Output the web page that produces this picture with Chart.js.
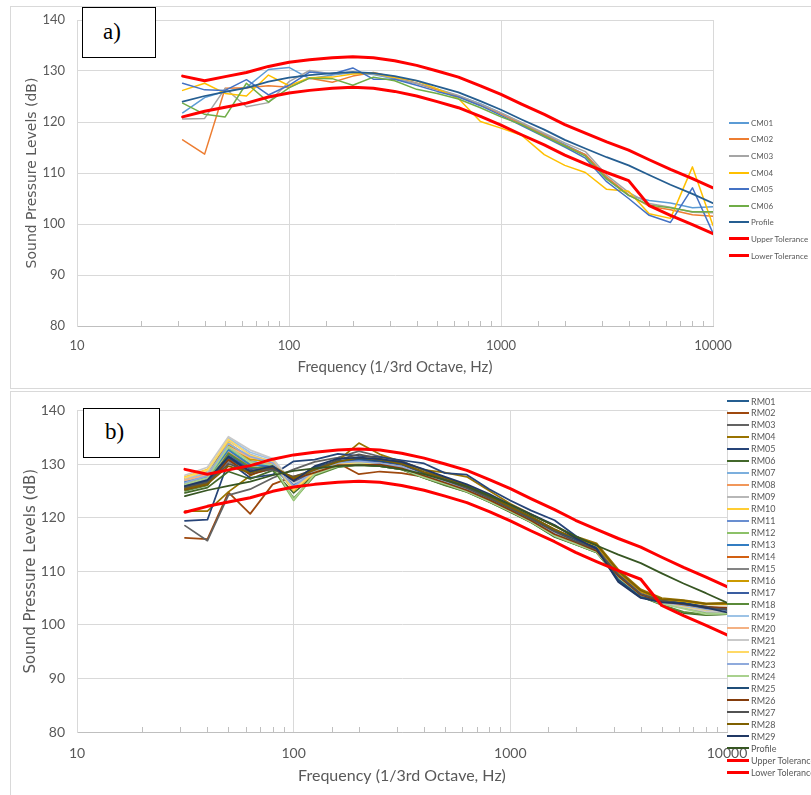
<!DOCTYPE html>
<html>
<head>
<meta charset="utf-8">
<script src="https://cdn.jsdelivr.net/npm/chart.js@4.4.0/dist/chart.umd.min.js"></script>
<style>
  body { margin: 0; background: #fff; width: 811px; height: 795px; overflow: hidden; position: relative; font-family: Lato, sans-serif; }
  .panel { position: absolute; left: 10px; width: 810px; border: 1px solid #D9D9D9; border-right: none; box-sizing: border-box; }
  canvas { position: absolute; left: 0; }
  .tag { position: absolute; border: 1px solid #000; background: #fff; box-sizing: border-box;
         font-family: "Liberation Serif", "DejaVu Serif", serif; font-size: 23px; color: #000; }
  .tag span { position: absolute; }
  .legend { position: absolute; left: 0; top: 0; }
  .legend .item { position: absolute; display: flex; align-items: center; white-space: nowrap; height: 12px;
                  color: #595959; font-family: Lato, sans-serif; }
  .legend .swatch { display: inline-block; margin-right: 2px; }
</style>
</head>
<body>
<div class="panel" style="top:6px;height:383px"></div>
<div class="panel" style="top:391px;height:420px"></div>
<canvas id="chartA" width="811" height="390" style="top:0"></canvas>
<canvas id="chartB" width="811" height="405" style="top:390px"></canvas>
<div class="tag" style="left:82px;top:7px;width:74px;height:51px"><span style="left:20px;top:11px">a)</span></div>
<div class="tag" style="left:83px;top:408px;width:77px;height:50px"><span style="left:21px;top:10px">b)</span></div>
<div class="legend" id="legendA"></div>
<div class="legend" id="legendB"></div>
<script>
// 1/3 octave band centre frequencies (Hz)
const freqs = [31.5, 40, 50, 63, 80, 100, 125, 160, 200, 250, 315, 400, 500, 630, 800, 1000, 1250, 1600, 2000, 2500, 3150, 4000, 5000, 6300, 8000, 10000];
const xTickValues = [10, 100, 1000, 10000];

const profile   = [124.0, 125.1, 125.9, 126.7, 127.9, 128.7, 129.2, 129.6, 129.8, 129.6, 129.0, 128.1, 127.0, 125.8, 124.1, 122.4, 120.5, 118.5, 116.5, 114.8, 113.1, 111.5, 109.6, 107.7, 105.9, 104.1];
const upperTol  = [129.0, 128.1, 128.9, 129.7, 130.9, 131.7, 132.2, 132.6, 132.8, 132.6, 132.0, 131.1, 130.0, 128.8, 127.1, 125.4, 123.5, 121.5, 119.5, 117.8, 116.1, 114.5, 112.6, 110.7, 108.9, 107.1];
const lowerTol  = [121.0, 122.1, 122.9, 123.7, 124.9, 125.7, 126.2, 126.6, 126.8, 126.6, 126.0, 125.1, 124.0, 122.8, 121.1, 119.4, 117.5, 115.5, 113.5, 111.8, 110.1, 108.5, 103.6, 101.7, 99.9, 98.1];

// panel a
const cm01 = [121.8, 124.8, 126.0, 126.8, 130.3, 130.7, 128.5, 129.2, 129.7, 129.3, 128.5, 127.6, 126.4, 125.1, 123.6, 121.8, 119.8, 117.6, 115.6, 113.6, 109.0, 105.6, 104.6, 104.1, 103.2, 103.4];
const cm02 = [116.5, 113.7, 126.6, 126.7, 127.1, 126.8, 128.6, 127.8, 129.0, 129.7, 128.8, 127.6, 126.3, 125.0, 123.3, 121.6, 119.6, 117.4, 115.4, 113.6, 109.2, 105.7, 103.5, 102.8, 101.8, 101.5];
const cm03 = [120.6, 120.7, 126.6, 123.0, 123.8, 127.9, 130.1, 129.4, 129.8, 129.4, 128.6, 127.6, 126.5, 125.2, 123.5, 121.8, 119.9, 117.8, 115.9, 114.2, 109.6, 106.2, 104.0, 103.3, 102.3, 102.2];
const cm04 = [126.2, 127.6, 125.6, 125.1, 129.2, 127.1, 128.7, 128.8, 129.4, 129.6, 128.7, 128.1, 126.5, 124.6, 120.1, 118.8, 117.4, 113.6, 111.5, 110.1, 106.8, 106.4, 102.0, 101.1, 111.2, 99.7];
const cm05 = [127.6, 126.3, 126.2, 128.3, 125.3, 127.2, 129.8, 129.4, 130.6, 128.4, 128.4, 127.2, 126.0, 124.9, 123.2, 121.3, 119.3, 117.1, 115.1, 112.9, 108.3, 105.0, 101.7, 100.3, 107.1, 98.2];
const cm06 = [123.7, 121.5, 121.0, 127.6, 123.9, 126.7, 128.6, 128.5, 127.2, 128.8, 128.1, 126.4, 125.6, 124.5, 122.8, 121.0, 119.5, 117.2, 115.3, 113.3, 108.8, 105.6, 103.7, 103.2, 102.4, 102.4];

// panel b
const rm01 = [126.0, 127.0, 131.5, 129.0, 129.8, 126.5, 129.0, 130.3, 130.6, 130.2, 129.5, 128.0, 126.8, 125.5, 123.6, 121.8, 119.8, 117.2, 115.6, 114.0, 109.0, 105.6, 104.3, 103.6, 102.8, 102.6];
const rm02 = [116.2, 116.0, 124.7, 120.7, 126.2, 127.7, 128.6, 130.2, 128.1, 128.6, 128.3, 127.6, 126.6, 125.3, 123.5, 121.6, 119.7, 117.4, 115.4, 113.9, 109.3, 105.8, 104.4, 103.9, 103.4, 103.0];
const rm03 = [118.5, 115.7, 124.2, 125.3, 127.4, 129.0, 130.4, 131.2, 132.4, 131.4, 130.6, 128.8, 127.4, 125.8, 124.2, 122.0, 120.2, 117.8, 115.8, 114.4, 109.6, 106.0, 104.6, 104.0, 103.0, 102.4];
const rm04 = [121.2, 121.2, 124.8, 127.8, 129.8, 127.0, 128.5, 130.6, 133.9, 131.8, 130.4, 128.9, 128.4, 127.6, 125.0, 122.6, 120.6, 118.4, 116.5, 115.2, 110.3, 106.6, 105.0, 104.6, 104.0, 104.1];
const rm05 = [119.4, 119.6, 130.5, 127.4, 128.0, 130.5, 130.8, 131.9, 131.5, 131.3, 130.7, 130.1, 128.3, 128.0, 125.3, 123.2, 121.3, 119.5, 116.6, 114.3, 108.2, 105.1, 104.4, 104.2, 103.2, 102.2];
const rm06 = [124.6, 125.6, 128.6, 127.2, 128.8, 124.6, 128.0, 129.5, 129.8, 129.6, 129.0, 127.4, 126.0, 124.8, 122.9, 121.0, 119.1, 116.4, 115.0, 113.5, 108.6, 105.3, 103.8, 102.2, 101.8, 102.0];
const rm07 = [127.0, 128.2, 133.4, 130.4, 130.0, 125.6, 128.8, 130.0, 130.4, 130.0, 129.4, 127.8, 126.6, 125.3, 123.5, 121.6, 119.6, 117.0, 115.5, 113.9, 109.2, 105.7, 104.3, 103.6, 102.8, 102.6];
const rm08 = [126.4, 127.4, 132.2, 129.6, 130.2, 125.8, 128.6, 130.1, 130.5, 130.3, 129.6, 128.0, 126.8, 125.4, 123.7, 121.7, 119.7, 117.2, 115.7, 114.1, 109.4, 105.8, 104.4, 103.7, 103.0, 102.9];
const rm09 = [126.8, 128.0, 134.4, 131.8, 130.4, 126.2, 128.2, 129.8, 130.2, 129.8, 129.2, 127.6, 126.4, 125.1, 123.2, 121.4, 119.4, 116.8, 115.3, 113.8, 109.1, 105.6, 104.1, 103.4, 102.6, 102.5];
const rm10 = [127.6, 129.0, 134.0, 131.0, 130.2, 125.0, 128.4, 129.9, 130.3, 129.9, 129.3, 127.7, 126.5, 125.2, 123.3, 121.5, 119.5, 116.9, 115.4, 113.9, 109.3, 105.7, 104.2, 103.5, 102.8, 102.7];
const rm11 = [126.2, 127.2, 133.0, 130.6, 129.6, 125.4, 128.9, 130.2, 130.6, 130.1, 129.5, 127.9, 126.7, 125.4, 123.5, 121.6, 119.6, 117.1, 115.6, 114.0, 109.0, 105.5, 104.2, 103.5, 102.7, 102.5];
const rm12 = [125.8, 126.8, 132.8, 130.0, 129.4, 123.2, 128.0, 129.6, 130.0, 129.7, 129.1, 127.5, 126.2, 124.9, 123.0, 121.2, 119.2, 116.6, 115.1, 113.6, 108.8, 105.4, 104.0, 103.2, 102.2, 102.2];
const rm13 = [126.6, 127.6, 132.6, 129.8, 129.8, 126.0, 129.2, 130.4, 130.7, 130.3, 129.7, 128.1, 126.9, 125.5, 123.7, 121.8, 119.8, 117.3, 115.7, 114.1, 109.2, 105.6, 104.3, 103.7, 103.0, 102.8];
const rm14 = [125.5, 126.6, 131.0, 128.6, 129.4, 126.8, 128.7, 130.0, 130.2, 130.2, 129.4, 127.9, 126.6, 125.2, 123.4, 121.5, 119.5, 117.0, 115.5, 113.8, 109.0, 105.5, 104.2, 103.6, 102.9, 102.8];
const rm15 = [126.0, 127.0, 130.4, 128.2, 129.0, 127.4, 128.4, 129.8, 130.1, 130.0, 129.3, 127.8, 126.5, 125.0, 123.2, 121.3, 119.4, 116.8, 115.3, 113.7, 108.9, 105.3, 104.0, 103.3, 102.5, 102.4];
const rm16 = [127.3, 128.6, 133.6, 130.8, 130.6, 125.2, 128.3, 129.7, 130.4, 130.1, 129.6, 128.2, 127.0, 125.6, 123.8, 121.9, 119.9, 117.5, 115.9, 114.8, 109.8, 106.2, 104.8, 104.3, 103.8, 103.8];
const rm17 = [125.4, 126.4, 131.8, 129.2, 129.6, 126.4, 129.0, 130.5, 130.8, 130.4, 129.8, 128.3, 127.0, 125.6, 123.8, 121.9, 119.9, 117.6, 115.8, 114.2, 108.6, 105.2, 104.2, 103.8, 103.2, 102.9];
const rm18 = [125.0, 126.0, 132.0, 129.4, 129.2, 123.6, 127.8, 129.4, 129.9, 129.6, 129.0, 127.4, 126.1, 124.8, 122.9, 121.1, 119.1, 116.5, 115.0, 113.5, 108.7, 105.3, 103.7, 102.4, 101.9, 102.0];
const rm19 = [127.2, 128.5, 134.8, 132.2, 130.8, 125.4, 128.6, 130.0, 130.4, 130.0, 129.4, 127.8, 126.6, 125.3, 123.4, 121.5, 119.5, 116.9, 115.5, 113.9, 109.2, 105.7, 104.2, 103.5, 102.8, 102.7];
const rm20 = [127.0, 128.0, 133.2, 131.2, 130.6, 125.6, 128.5, 130.0, 130.3, 130.1, 129.5, 127.9, 126.7, 125.3, 123.5, 121.6, 119.6, 117.1, 115.6, 114.0, 109.3, 105.8, 104.3, 103.6, 102.9, 102.8];
const rm21 = [127.9, 129.4, 135.1, 132.6, 131.0, 126.4, 128.2, 129.8, 130.1, 129.8, 129.2, 127.6, 126.4, 125.0, 123.1, 121.3, 119.3, 116.7, 115.2, 113.7, 109.0, 105.5, 104.0, 103.3, 102.5, 102.4];
const rm22 = [127.4, 128.8, 134.6, 131.6, 130.4, 125.2, 128.5, 129.9, 130.3, 129.9, 129.3, 127.7, 126.5, 125.1, 123.3, 121.4, 119.4, 116.8, 115.4, 113.9, 109.2, 105.7, 104.2, 103.5, 102.8, 102.7];
const rm23 = [126.5, 127.8, 133.8, 131.4, 130.2, 125.8, 128.8, 130.2, 130.5, 130.1, 129.5, 127.9, 126.7, 125.3, 123.5, 121.6, 119.6, 117.1, 115.6, 114.0, 109.1, 105.6, 104.2, 103.6, 102.9, 102.7];
const rm24 = [126.2, 127.4, 133.2, 130.4, 129.8, 123.4, 128.1, 129.6, 130.0, 129.7, 129.1, 127.5, 126.3, 124.9, 123.0, 121.2, 119.2, 116.6, 115.1, 113.6, 108.8, 105.4, 103.9, 103.0, 102.0, 102.1];
const rm25 = [125.8, 126.8, 131.2, 128.4, 129.4, 127.0, 129.4, 130.6, 131.0, 130.6, 130.0, 128.4, 127.1, 125.7, 123.9, 122.0, 120.0, 117.7, 115.9, 114.3, 108.4, 105.2, 104.4, 104.0, 103.4, 102.8];
const rm26 = [125.2, 126.2, 130.8, 128.0, 129.2, 127.2, 128.4, 129.8, 129.8, 129.9, 129.2, 127.8, 126.5, 125.1, 123.3, 121.4, 119.4, 116.9, 115.4, 113.8, 109.1, 105.6, 104.3, 103.8, 103.3, 103.2];
const rm27 = [125.6, 126.6, 130.0, 128.8, 129.0, 127.6, 129.0, 130.8, 131.8, 131.0, 130.2, 128.4, 127.0, 125.5, 123.6, 121.7, 119.7, 117.4, 115.6, 114.1, 109.4, 105.8, 104.5, 103.9, 103.1, 102.9];
const rm28 = [125.3, 126.3, 129.6, 128.4, 129.6, 127.4, 128.9, 130.4, 131.2, 130.8, 130.0, 128.5, 127.4, 126.0, 124.0, 122.0, 120.1, 117.8, 116.2, 115.0, 110.0, 106.4, 104.8, 104.5, 103.9, 104.0];
const rm29 = [125.9, 127.0, 131.4, 128.6, 129.6, 126.8, 129.6, 131.0, 131.2, 130.9, 130.4, 129.0, 127.6, 126.2, 124.4, 122.4, 120.6, 118.6, 116.2, 114.2, 108.0, 105.0, 104.2, 104.0, 103.2, 102.3];

const seriesA = [
  ['CM01', cm01, '#5B9BD5', 1.5],
  ['CM02', cm02, '#ED7D31', 1.5],
  ['CM03', cm03, '#A5A5A5', 1.5],
  ['CM04', cm04, '#FFC000', 1.5],
  ['CM05', cm05, '#4472C4', 1.5],
  ['CM06', cm06, '#70AD47', 1.5],
  ['Profile', profile, '#255E91', 1.75],
  ['Upper Tolerance', upperTol, '#FF0000', 3],
  ['Lower Tolerance', lowerTol, '#FF0000', 3]
];

const seriesB = [
  ['RM01', rm01, '#255E91', 1.75], ['RM02', rm02, '#9E480E', 1.75], ['RM03', rm03, '#636363', 1.75],
  ['RM04', rm04, '#997300', 1.75], ['RM05', rm05, '#264478', 1.75], ['RM06', rm06, '#43682B', 1.75],
  ['RM07', rm07, '#7CAFDD', 1.75], ['RM08', rm08, '#F1975A', 1.75], ['RM09', rm09, '#B7B7B7', 1.75],
  ['RM10', rm10, '#FFCD33', 1.75], ['RM11', rm11, '#698ED0', 1.75], ['RM12', rm12, '#8CC168', 1.75],
  ['RM13', rm13, '#327DC2', 1.75], ['RM14', rm14, '#D26012', 1.75], ['RM15', rm15, '#848484', 1.75],
  ['RM16', rm16, '#CC9A00', 1.75], ['RM17', rm17, '#3A5DA0', 1.75], ['RM18', rm18, '#5A8A39', 1.75],
  ['RM19', rm19, '#9DC3E6', 1.75], ['RM20', rm20, '#F4B183', 1.75], ['RM21', rm21, '#C9C9C9', 1.75],
  ['RM22', rm22, '#FFD966', 1.75], ['RM23', rm23, '#8FAADC', 1.75], ['RM24', rm24, '#A9D18E', 1.75],
  ['RM25', rm25, '#1F4E79', 1.75], ['RM26', rm26, '#843C0C', 1.75], ['RM27', rm27, '#525252', 1.75],
  ['RM28', rm28, '#7F6000', 1.75], ['RM29', rm29, '#203864', 1.75],
  ['Profile', profile, '#375623', 1.75],
  ['Upper Tolerance', upperTol, '#FF0000', 3],
  ['Lower Tolerance', lowerTol, '#FF0000', 3]
];

const grey = '#595959';

// small inward tick marks on the log axis, like Excel minor ticks
const minorTicks = {
  id: 'minorTicks',
  afterDraw(chart) {
    const sx = chart.scales.x, ctx = chart.ctx, b = chart.chartArea.bottom;
    ctx.save();
    ctx.strokeStyle = '#BFBFBF';
    ctx.lineWidth = 1;
    sx.ticks.forEach(t => {
      if (xTickValues.includes(t.value)) return;
      const px = Math.round(sx.getPixelForValue(t.value)) + 0.5;
      ctx.beginPath();
      ctx.moveTo(px, b);
      ctx.lineTo(px, b - 5);
      ctx.stroke();
    });
    ctx.restore();
  }
};

function makeChart(id, series, o) {
  const n = series.length;
  const datasets = series.map(([label, vals, color, w], i) => ({
    label: label,
    data: freqs.map((f, k) => ({ x: f, y: vals[k] })),
    borderColor: color,
    backgroundColor: color,
    borderWidth: w,
    pointRadius: 0,
    tension: 0,
    borderJoinStyle: 'round',
    borderCapStyle: 'round',
    order: n - i
  }));
  return new Chart(document.getElementById(id), {
    type: 'line',
    data: { datasets: datasets },
    plugins: [minorTicks],
    options: {
      responsive: false,
      animation: false,
      layout: { padding: { top: o.top, right: o.right, bottom: 0, left: 0 } },
      plugins: { legend: { display: false }, tooltip: { enabled: false } },
      scales: {
        x: {
          type: 'logarithmic',
          min: 10,
          max: 10000,
          afterFit(s) { s.height = o.xHeight; },
          border: { color: '#BFBFBF' },
          grid: {
            drawTicks: false,
            color: ctx => (ctx.tick && xTickValues.includes(ctx.tick.value)) ? '#D9D9D9' : 'rgba(0,0,0,0)'
          },
          ticks: {
            autoSkip: false,
            maxRotation: 0,
            padding: o.xPad,
            color: grey,
            font: { family: 'Lato', size: o.tick },
            callback: v => xTickValues.includes(v) ? String(v) : ''
          },
          title: {
            display: true,
            text: 'Frequency (1/3rd Octave, Hz)',
            color: grey,
            font: { family: 'Lato', size: o.xTitle },
            padding: { top: 0, bottom: o.xTitlePad }
          }
        },
        y: {
          min: 80,
          max: 140,
          afterFit(s) { s.width = 77; },
          border: { color: '#D9D9D9' },
          grid: { drawTicks: false, color: '#D9D9D9' },
          ticks: { stepSize: 10, padding: 12, color: grey, font: { family: 'Lato', size: o.tick } },
          title: {
            display: true,
            text: 'Sound Pressure Levels (dB)',
            color: grey,
            font: { family: 'DejaVu Sans', size: o.yTitle },
            padding: { top: o.yTitlePad, bottom: 0 }
          }
        }
      }
    }
  });
}

makeChart('chartA', seriesA, { top: 20, right: 98, xHeight: 64, xPad: 12, tick: 13, xTitle: 15, xTitlePad: 14, yTitle: 14, yTitlePad: 24 });
makeChart('chartB', seriesB, { top: 15, right: 84, xHeight: 63, xPad: 13, tick: 14, xTitle: 16, xTitlePad: 10, yTitle: 15, yTitlePad: 22 });

function buildLegend(elId, series, left, top0, step, swatchW, fontPx) {
  const el = document.getElementById(elId);
  series.forEach(([label, , color, w], i) => {
    const row = document.createElement('div');
    row.className = 'item';
    row.style.left = left + 'px';
    row.style.top = (top0 + i * step - 6) + 'px';
    row.style.fontSize = fontPx + 'px';
    const sw = document.createElement('span');
    sw.className = 'swatch';
    sw.style.width = swatchW + 'px';
    sw.style.borderTop = Math.max(2, w) + 'px solid ' + color;
    const tx = document.createElement('span');
    tx.textContent = label;
    row.appendChild(sw);
    row.appendChild(tx);
    el.appendChild(row);
  });
}
buildLegend('legendA', seriesA, 729, 122.7, 16.6, 20, 8);
buildLegend('legendB', seriesB, 727, 401, 11.97, 22, 9);
</script>
</body>
</html>
